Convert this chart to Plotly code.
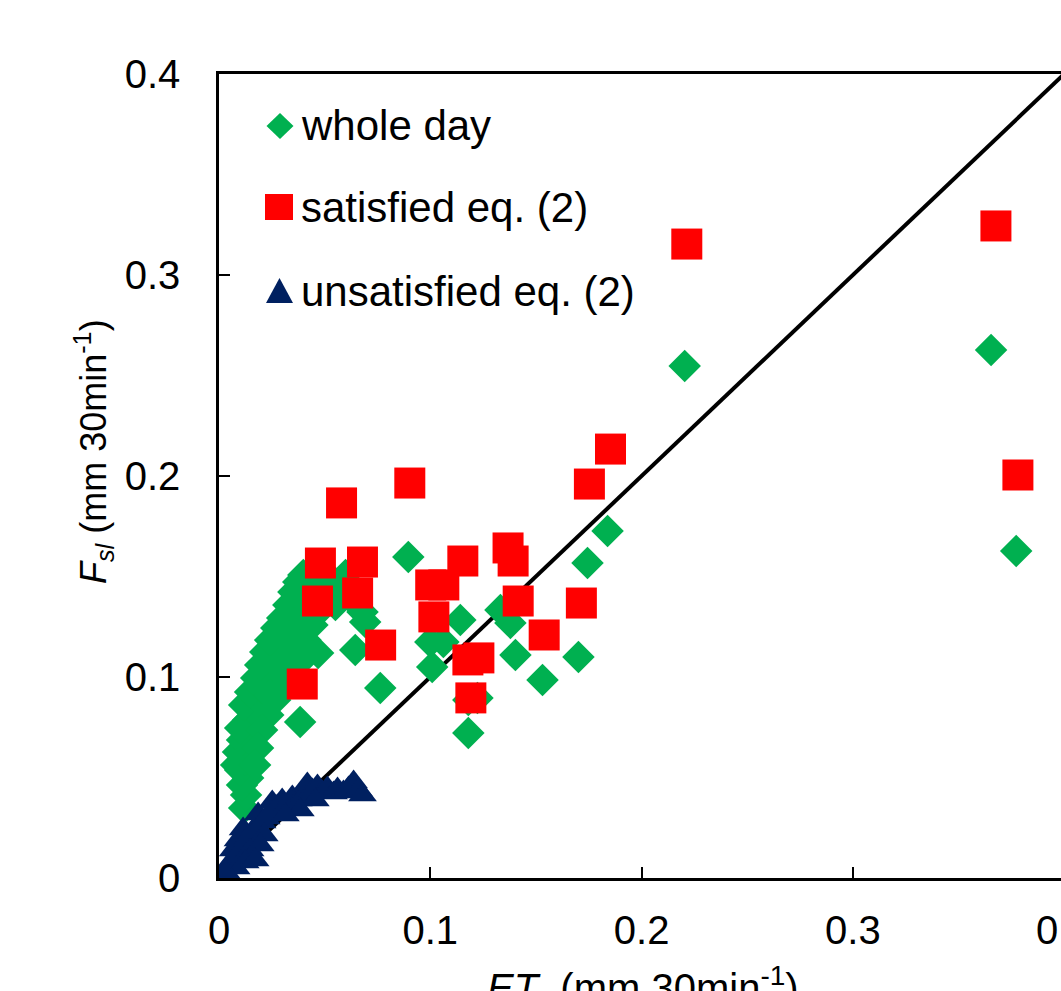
import plotly.graph_objects as go

# ET (mm 30min-1) and F_sl (mm 30min-1) for each half-hour record
whole_day_et = [
    0.0119, 0.0128, 0.0109, 0.0138, 0.0100, 0.0124, 0.0090, 0.0147, 0.0109, 0.0162,
    0.0100, 0.0138, 0.0171, 0.0119, 0.0185, 0.0147, 0.0204, 0.0176, 0.0233, 0.0195,
    0.0252, 0.0219, 0.0280, 0.0242, 0.0304, 0.0271, 0.0337, 0.0299, 0.0361, 0.0328,
    0.0385, 0.0352, 0.0409, 0.0375, 0.0432, 0.0399, 0.0470, 0.0527, 0.0599, 0.0575,
    0.0632, 0.0679, 0.0551, 0.0489, 0.0242, 0.0385, 0.0456, 0.0081,
    0.0266, 0.0299, 0.0233, 0.0204, 0.0185, 0.0337, 0.0371, 0.0409, 0.0171, 0.0442,
    0.3654, 0.3773, 0.2204, 0.1839, 0.1744, 0.1701, 0.1531, 0.1403, 0.1379, 0.1332,
    0.1142, 0.1000, 0.1062, 0.1009, 0.1180, 0.1223, 0.1180, 0.0896, 0.0763, 0.0384,
    0.0645, 0.0417, 0.0469, 0.0692,
]
whole_day_fsl = [
    0.0348, 0.0413, 0.0463, 0.0498, 0.0537, 0.0587, 0.0627, 0.0647, 0.0687, 0.0711,
    0.0746, 0.0786, 0.0826, 0.0861, 0.0886, 0.0925, 0.0945, 0.0995, 0.1025, 0.1060,
    0.1085, 0.1124, 0.1144, 0.1184, 0.1204, 0.1244, 0.1259, 0.1294, 0.1323, 0.1358,
    0.1383, 0.1423, 0.1433, 0.1473, 0.1483, 0.1507, 0.1522, 0.1493, 0.1507, 0.1433,
    0.1383, 0.1323, 0.1358, 0.1393, 0.0910, 0.1159, 0.1308, 0.0562,
    0.0886, 0.0945, 0.0811, 0.0736, 0.0647, 0.1045, 0.1109, 0.1184, 0.0562, 0.1259,
    0.2627, 0.1627, 0.2547, 0.1726, 0.1567, 0.1100, 0.0985, 0.1109, 0.1269, 0.1333,
    0.1284, 0.1174, 0.1174, 0.1050, 0.0886, 0.0896, 0.0721, 0.1597, 0.0945, 0.0776,
    0.1134, 0.1109, 0.1119, 0.1274,
]

satisfied_et = [
    0.2214, 0.3677, 0.3781, 0.1853, 0.1753, 0.0903, 0.0580, 0.0480, 0.0679, 0.0466,
    0.0656, 0.0765, 0.0394, 0.1154, 0.1002, 0.1064, 0.1017, 0.1368, 0.1392, 0.1416,
    0.1539, 0.1715, 0.1178, 0.1230, 0.1192,
]
satisfied_fsl = [
    0.3154, 0.3244, 0.2005, 0.2134, 0.1960, 0.1965, 0.1866, 0.1567, 0.1572, 0.1378,
    0.1418, 0.1159, 0.0965, 0.1577, 0.1458, 0.1458, 0.1299, 0.1642, 0.1577, 0.1378,
    0.1209, 0.1368, 0.1085, 0.1095, 0.0896,
]

unsatisfied_et = [
    0.0043, 0.0062, 0.0081, 0.0100, 0.0067, 0.0119, 0.0090, 0.0138, 0.0157, 0.0114,
    0.0176, 0.0204, 0.0185, 0.0223, 0.0242, 0.0276, 0.0252, 0.0299, 0.0328, 0.0347,
    0.0375, 0.0404, 0.0418, 0.0442, 0.0466, 0.0489, 0.0513, 0.0542, 0.0561, 0.0589,
    0.0613, 0.0637, 0.0660, 0.0679, 0.0385, 0.0314, 0.0456, 0.0214, 0.0147, 0.0195,
    0.0033, 0.0124, 0.0171,
]
unsatisfied_fsl = [
    0.0060, 0.0090, 0.0050, 0.0114, 0.0139, 0.0159, 0.0189, 0.0199, 0.0229, 0.0244,
    0.0259, 0.0279, 0.0318, 0.0299, 0.0328, 0.0358, 0.0378, 0.0388, 0.0368, 0.0403,
    0.0388, 0.0413, 0.0468, 0.0438, 0.0458, 0.0428, 0.0448, 0.0423, 0.0443, 0.0428,
    0.0448, 0.0478, 0.0438, 0.0413, 0.0338, 0.0313, 0.0388, 0.0214, 0.0139, 0.0164,
    0.0030, 0.0080, 0.0090,
]

# 1:1 line
one_to_one = [0.0, 0.4]

tick_vals = [0, 0.1, 0.2, 0.3, 0.4]
tick_text = ["0", "0.1", "0.2", "0.3", "0.4"]

legend_labels = ["whole day", "satisfied eq. (2)", "unsatisfied eq. (2)"]

# visible part of the ET axis (the 0.4 end sits just past the right edge)
X_MAX = 0.3985
Y_MAX = 0.4

GREEN = "#00B050"
RED = "#FF0000"
NAVY = "#002060"
FONT = "Liberation Sans, Arial, sans-serif"

fig = go.Figure()

fig.add_trace(go.Scatter(
    x=one_to_one, y=one_to_one, mode="lines",
    line=dict(color="black", width=4), hoverinfo="skip", showlegend=False,
))
fig.add_trace(go.Scatter(
    x=whole_day_et, y=whole_day_fsl, mode="markers", name=legend_labels[0],
    marker=dict(symbol="diamond", size=25, color=GREEN, line=dict(width=0)),
    showlegend=False,
))
fig.add_trace(go.Scatter(
    x=satisfied_et, y=satisfied_fsl, mode="markers", name=legend_labels[1],
    marker=dict(symbol="square", size=31, color=RED, line=dict(width=0)),
    showlegend=False,
))
fig.add_trace(go.Scatter(
    x=unsatisfied_et, y=unsatisfied_fsl, mode="markers", name=legend_labels[2],
    marker=dict(symbol="triangle-up", size=25, color=NAVY, line=dict(width=0)),
    showlegend=False,
))

# plot area in pixels: left 219, right 1061, top 74, bottom 878
L, R, T, B = 219, 1061, 74, 878


def px(xp):
    return (xp - L) / (R - L)


def py(yp):
    return (B - yp) / (B - T)


# legend keys
key_paths = [
    ("M0,13 L13.5,0 L0,-13 L-13.5,0 Z", GREEN, 280, 126),
    ("M-14,-13 L14,-13 L14,13 L-14,13 Z", RED, 279, 207),
    ("M0,12.5 L13.5,-12.5 L-13.5,-12.5 Z", NAVY, 279.5, 290.5),
]
for path, color, cx, cy in key_paths:
    fig.add_shape(
        type="path", path=path, xref="paper", yref="paper",
        xsizemode="pixel", ysizemode="pixel", xanchor=px(cx), yanchor=py(cy),
        fillcolor=color, line=dict(width=0), layer="above",
    )

for label, cy in zip(legend_labels, [125, 208, 291]):
    fig.add_annotation(
        text=label, xref="paper", yref="paper", x=px(299), y=py(cy),
        xanchor="left", yanchor="middle", showarrow=False,
        font=dict(family=FONT, size=42, color="black"),
    )

# last ET tick label, just beyond the visible axis end
fig.add_annotation(
    text=tick_text[-1], xref="paper", yref="paper",
    x=tick_vals[-1] / X_MAX, y=py(930),
    xanchor="center", yanchor="middle", showarrow=False,
    font=dict(family=FONT, size=40, color="black"),
)

# axis titles
fig.add_annotation(
    text="<i>F</i><sub><i>sl</i></sub> (mm 30min<sup>-1</sup>)",
    xref="paper", yref="paper", x=px(93), y=py(452), textangle=-90,
    xanchor="center", yanchor="middle", showarrow=False,
    font=dict(family=FONT, size=36, color="black"),
)
fig.add_annotation(
    text="<i>ET</i>\u00a0 (mm 30min<sup>-1</sup>)",
    xref="paper", yref="paper", x=px(643), y=py(985),
    xanchor="center", yanchor="middle", showarrow=False,
    font=dict(family=FONT, size=40, color="black"),
)

axis_common = dict(
    tickmode="array", tickvals=tick_vals, ticktext=tick_text,
    ticks="inside", ticklen=11, tickwidth=2, tickcolor="black",
    showline=True, linecolor="black", linewidth=2.5,
    showgrid=False, zeroline=False, automargin=False,
    tickfont=dict(family=FONT, size=40, color="black"),
)

fig.update_layout(
    width=1061, height=991,
    margin=dict(l=L, r=1061 - R, t=T, b=991 - B, pad=0, autoexpand=False),
    paper_bgcolor="white", plot_bgcolor="white",
    xaxis=dict(**axis_common, range=[0, X_MAX], mirror=True, ticklabelstandoff=15),
    yaxis=dict(**axis_common, range=[0, Y_MAX], mirror=False, ticklabelstandoff=28),
    showlegend=False,
)

fig.write_html("out.html")
